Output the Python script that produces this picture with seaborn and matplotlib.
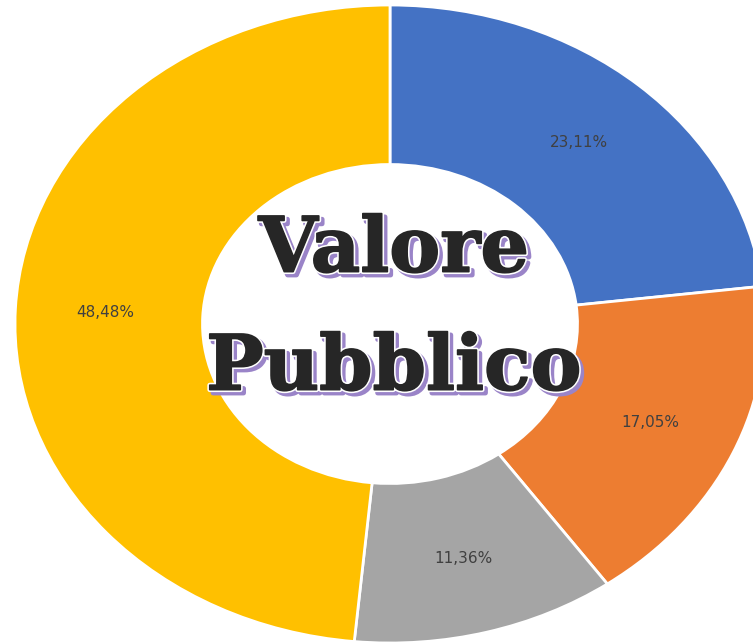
import matplotlib
matplotlib.use("Agg")
import numpy as np
import matplotlib.pyplot as plt
import matplotlib.patheffects as pe
import seaborn as sns

labels = ["A", "B", "C", "D"]
shares = [23.11, 17.05, 11.36, 48.48]
pct_labels = ["23,11%", "17,05%", "11,36%", "48,48%"]
colors = ["#4472C4", "#ED7D31", "#A5A5A5", "#FFC000"]
title_lines = ["Valore", "Pubblico"]

sns.set_theme(style="white")
plt.rcParams["font.family"] = ["DejaVu Sans"]

fig = plt.figure(figsize=(7.53, 6.43), dpi=100)
ax = fig.add_axes([0, 0, 1, 1])

wedges, _ = ax.pie(shares, colors=sns.color_palette(colors), startangle=90,
                   counterclock=False,
                   wedgeprops=dict(width=0.5, edgecolor="white", linewidth=2))

# percentage labels at the middle angle of each wedge
cum = np.cumsum([0] + shares[:-1])
for start, val, txt in zip(cum, shares, pct_labels):
    ang = np.deg2rad(90 - (start + val / 2) * 3.6)
    ax.text(0.76 * np.cos(ang), 0.76 * np.sin(ang), txt, ha="center", va="center",
            fontsize=11, color="#404040")

ax.set_aspect("auto")
ax.set_xlim(-1.04, 0.968)
ax.set_ylim(-1.0, 1.0157)
ax.axis("off")

effects = [pe.Stroke(linewidth=3.5, foreground="#9a84c8", offset=(2.4, -2.4)),
           pe.Stroke(linewidth=3.5, foreground="white"),
           pe.Stroke(linewidth=1.2, foreground="#262626"),
           pe.Normal()]
ax.text(0.01, 0.23, title_lines[0], ha="center", va="center", fontsize=55,
        fontweight="bold", family="DejaVu Serif", color="#262626", path_effects=effects)
ax.text(0.01, -0.14, title_lines[1], ha="center", va="center", fontsize=55,
        fontweight="bold", family="DejaVu Serif", color="#262626", path_effects=effects)

fig.savefig("out.png", dpi=100)
